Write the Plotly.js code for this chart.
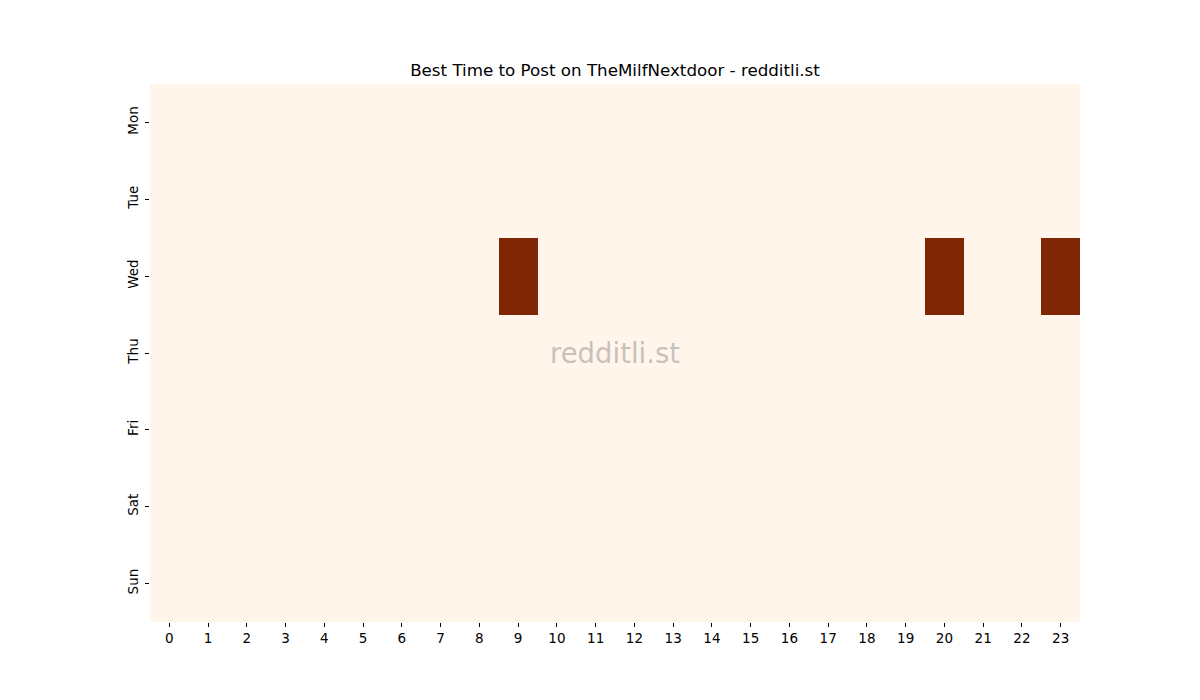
<!DOCTYPE html>
<html>
<head>
<meta charset="utf-8">
<script src="https://cdn.plot.ly/plotly-3.0.1.min.js"></script>
<style>body{margin:0;background:#fff;}#chart{width:1200px;height:700px;}</style>
</head>
<body>
<div id="chart"></div>
<script>
const days = ["Mon", "Tue", "Wed", "Thu", "Fri", "Sat", "Sun"];
const hours = [0,1,2,3,4,5,6,7,8,9,10,11,12,13,14,15,16,17,18,19,20,21,22,23];
// posting score per day (rows) and hour (columns)
const mon = [0,0,0,0,0,0,0,0,0,0,0,0,0,0,0,0,0,0,0,0,0,0,0,0];
const tue = [0,0,0,0,0,0,0,0,0,0,0,0,0,0,0,0,0,0,0,0,0,0,0,0];
const wed = [0,0,0,0,0,0,0,0,0,1,0,0,0,0,0,0,0,0,0,0,1,0,0,1];
const thu = [0,0,0,0,0,0,0,0,0,0,0,0,0,0,0,0,0,0,0,0,0,0,0,0];
const fri = [0,0,0,0,0,0,0,0,0,0,0,0,0,0,0,0,0,0,0,0,0,0,0,0];
const sat = [0,0,0,0,0,0,0,0,0,0,0,0,0,0,0,0,0,0,0,0,0,0,0,0];
const sun = [0,0,0,0,0,0,0,0,0,0,0,0,0,0,0,0,0,0,0,0,0,0,0,0];

const FONT = "DejaVu Sans, sans-serif";

var data = [{
	type: "heatmap",
	x: hours,
	y: days,
	z: [mon, tue, wed, thu, fri, sat, sun],
	zmin: 0,
	zmax: 1,
	colorscale: [[0, "#fff5eb"], [1, "#7f2704"]],
	showscale: false,
	hoverinfo: "x+y+z",
}];

var layout = {
	width: 1200,
	height: 700,
	margin: { l: 150, r: 120, t: 84, b: 78 },
	paper_bgcolor: "#ffffff",
	plot_bgcolor: "#ffffff",
	font: { family: FONT, size: 14, color: "#000" },
	title: {
		text: "Best Time to Post on TheMilfNextdoor - redditli.st",
		font: { family: FONT, size: 16.7, color: "#000" },
		xref: "paper",
		x: 0.5,
		xanchor: "center",
		y: 1 - 70 / 700,
		yanchor: "middle",
	},
	xaxis: {
		tickmode: "array",
		tickvals: hours,
		ticktext: hours.map(String),
		ticks: "outside",
		ticklen: 4,
		tickcolor: "#000",
		showgrid: false,
		zeroline: false,
		showline: false,
		tickfont: { family: FONT, size: 13.5 },
		range: [-0.5, 23.5],
	},
	yaxis: {
		autorange: "reversed",
		ticks: "outside",
		ticklen: 4,
		tickcolor: "#000",
		tickangle: -90,
		ticklabelstandoff: 2,
		showgrid: false,
		zeroline: false,
		showline: false,
		tickfont: { family: FONT, size: 13.5 },
	},
	annotations: [{
		text: "redditli.st",
		xref: "paper",
		yref: "paper",
		x: (615 - 150) / 930,
		y: (622 - 353) / 538,
		showarrow: false,
		font: { family: FONT, size: 27.5, color: "rgba(128,128,128,0.45)" },
	}],
};

Plotly.newPlot("chart", data, layout, { displayModeBar: false });
</script>
</body>
</html>
